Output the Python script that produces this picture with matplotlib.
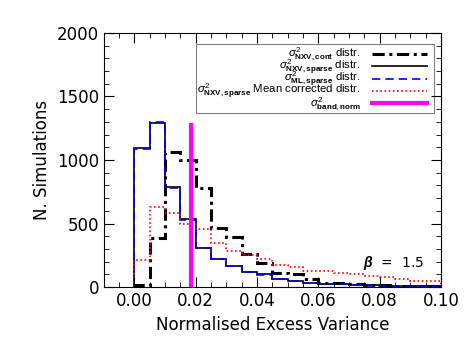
import numpy as np
import matplotlib
matplotlib.use('Agg')
import matplotlib.pyplot as plt
from matplotlib.ticker import MultipleLocator
from matplotlib.patches import Rectangle

plt.rcParams['font.family'] = ['DejaVu Sans']
plt.rcParams['mathtext.fontset'] = 'custom'
plt.rcParams['mathtext.rm'] = 'Liberation Sans'
plt.rcParams['mathtext.it'] = 'Liberation Sans:italic'
plt.rcParams['mathtext.bf'] = 'Liberation Sans:bold'
plt.rcParams['mathtext.bfit'] = 'Liberation Sans:italic:bold'

# histogram bin edges (bin width 0.005)
edges = np.arange(0, 0.1001, 0.005)

# counts per bin
nxv_cont = [15, 390, 1065, 1000, 777, 467, 396, 260, 187, 110,
            100, 60, 34, 29, 24, 18, 14, 12, 10, 8]
nxv_sparse = [1097, 1294, 785, 533, 310, 223, 168, 118, 100, 66,
              50, 36, 28, 24, 18, 14, 10, 8, 6, 5]
ml_sparse = [1090, 1300, 780, 528, 305, 220, 165, 116, 92, 62,
             48, 34, 26, 22, 16, 12, 9, 7, 5, 4]
mean_corr = [215, 628, 585, 496, 454, 344, 286, 252, 218, 175,
             160, 128, 125, 108, 100, 90, 82, 62, 50, 48]

band_norm = 0.0183
band_height = 1295
beta = 1.5

labels = [r'$\sigma^2_{\mathbf{NXV,cont}}$ distr.',
          r'$\sigma^2_{\mathbf{NXV,sparse}}$ distr.',
          r'$\sigma^2_{\mathbf{ML,sparse}}$ distr.',
          r'$\sigma^2_{\mathbf{NXV,sparse}}$ Mean corrected distr.',
          r'$\sigma^2_{\mathbf{band,norm}}$']
styles = [dict(color='black', lw=2.2, ls=(0, (4, 1.5, 1, 1.5))),
          dict(color='black', lw=1.2, ls='-'),
          dict(color='blue', lw=1.2, ls=(0, (5, 3))),
          dict(color='red', lw=1.2, ls=(0, (1, 1.5))),
          dict(color='magenta', lw=3, ls='-')]

fig = plt.figure(figsize=(4.72, 3.54), dpi=100)
ax = fig.add_axes([0.220, 0.189, 0.714, 0.718])

for vals, st in zip([nxv_cont, nxv_sparse, ml_sparse, mean_corr], styles):
    ax.stairs(vals, edges, **st)
ax.vlines(band_norm, 0, band_height, **styles[4])

ax.set_xlim(-0.01, 0.10)
ax.set_ylim(0, 2000)
ax.xaxis.set_major_locator(MultipleLocator(0.02))
ax.xaxis.set_minor_locator(MultipleLocator(0.005))
ax.yaxis.set_major_locator(MultipleLocator(500))
ax.yaxis.set_minor_locator(MultipleLocator(100))
ax.xaxis.set_major_formatter(plt.FormatStrFormatter('%.2f'))
ax.tick_params(which='both', direction='in', top=True, right=True, labelsize=12)
ax.tick_params(which='major', length=7)
ax.tick_params(which='minor', length=3.5)

ax.set_xlabel('Normalised Excess Variance', fontsize=12)
ax.set_ylabel('N. Simulations', fontsize=12)

ax.text(0.0745, 160, r'$\boldsymbol{\beta}$  =  %.1f' % beta, fontsize=10)

# legend drawn by hand so rows can sit close like the original
ax.add_patch(Rectangle((0.273, 0.685), 0.706, 0.272, transform=ax.transAxes,
                       fill=False, edgecolor='gray', lw=0.8))
text_y = [0.905, 0.856, 0.807, 0.758, 0.709]
line_y = [0.918, 0.869, 0.820, 0.771, 0.724]
for lab, st, ty, ly in zip(labels, styles, text_y, line_y):
    ax.text(0.762, ty, lab, transform=ax.transAxes, ha='right', va='baseline',
            fontsize=8.2, family='Liberation Sans')
    ax.plot([0.795, 0.959], [ly, ly], transform=ax.transAxes, **st)

fig.savefig('out.png', dpi=100)
